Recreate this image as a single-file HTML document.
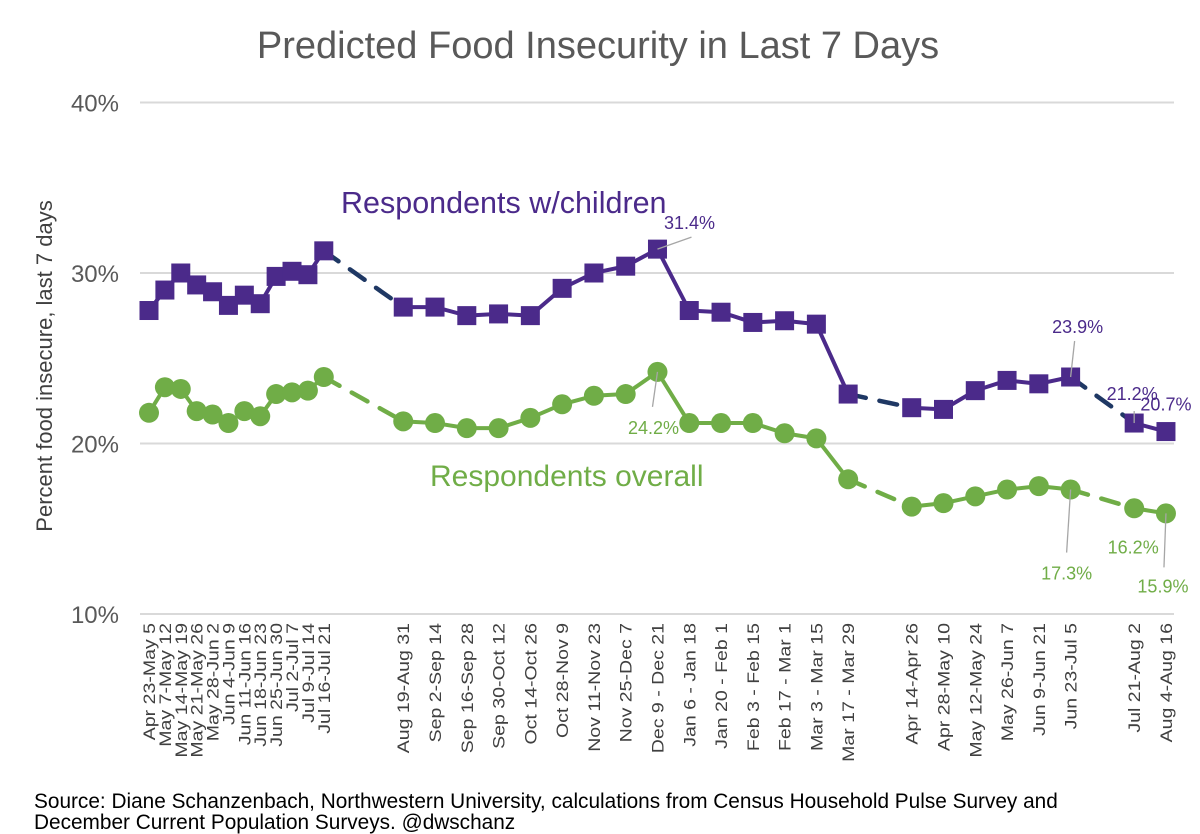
<!DOCTYPE html>
<html><head><meta charset="utf-8"><style>
body{margin:0;background:#fff;}
svg{display:block;font-family:"Liberation Sans",sans-serif;}
</style></head><body>
<svg id="chart" width="1200" height="834">
<text x="598" y="58" text-anchor="middle" font-size="38" fill="#595959">Predicted Food Insecurity in Last 7 Days</text>
<text transform="translate(52,366) rotate(-90)" text-anchor="middle" font-size="22" fill="#404040">Percent food insecure, last 7 days</text>
<g id="grid"></g><g id="xlabels"></g><g id="series"></g><g id="annot"></g>
<text x="341" y="213" font-size="30.5" fill="#4b2a8a">Respondents w/children</text>
<text x="430" y="486" font-size="30" fill="#70ad47">Respondents overall</text>
<text x="34" y="808" font-size="20.8" fill="#000">Source: Diane Schanzenbach, Northwestern University, calculations from Census Household Pulse Survey and</text>
<text x="34" y="829" font-size="20.8" fill="#000">December Current Population Surveys. @dwschanz</text>
</svg>
<script>
const categories=["Apr 23-May 5","May 7-May 12","May 14-May 19","May 21-May 26","May 28-Jun 2","Jun 4-Jun 9","Jun 11-Jun 16","Jun 18-Jun 23","Jun 25-Jun 30","Jul 2-Jul 7","Jul 9-Jul 14","Jul 16-Jul 21","Aug 19-Aug 31","Sep 2-Sep 14","Sep 16-Sep 28","Sep 30-Oct 12","Oct 14-Oct 26","Oct 28-Nov 9","Nov 11-Nov 23","Nov 25-Dec 7","Dec 9 - Dec 21","Jan 6 - Jan 18","Jan 20 - Feb 1","Feb 3 - Feb 15","Feb 17 - Mar 1","Mar 3 - Mar 15","Mar 17 - Mar 29","Apr 14-Apr 26","Apr 28-May 10","May 12-May 24","May 26-Jun 7","Jun 9-Jun 21","Jun 23-Jul 5","Jul 21-Aug 2","Aug 4-Aug 16"];
const slots=[0,1,2,3,4,5,6,7,8,9,10,11,16,18,20,22,24,26,28,30,32,34,36,38,40,42,44,48,50,52,54,56,58,62,64];
const children=[27.8,29.0,30.0,29.3,28.9,28.1,28.7,28.2,29.8,30.1,29.9,31.3,28.0,28.0,27.5,27.6,27.5,29.1,30.0,30.4,31.4,27.8,27.7,27.1,27.2,27.0,22.9,22.1,22.0,23.1,23.7,23.5,23.9,21.2,20.7];
const overall=[21.8,23.3,23.2,21.9,21.7,21.2,21.9,21.6,22.9,23.0,23.1,23.9,21.3,21.2,20.9,20.9,21.5,22.3,22.8,22.9,24.2,21.2,21.2,21.2,20.6,20.3,17.9,16.3,16.5,16.9,17.3,17.5,17.3,16.2,15.9];
const yTicks=[10,20,30,40];
const segments=[[0,11],[12,26],[27,32],[33,34]];
const annotatedChildren=[20,32,33,34];
const annotatedOverall=[20,32,33,34];
const NS="http://www.w3.org/2000/svg";
const X=s=>149+s*15.89;
const Y=v=>614-(v-10)*17.05;
function mk(tag,attrs,parent){const e=document.createElementNS(NS,tag);for(const k in attrs)e.setAttribute(k,attrs[k]);document.getElementById(parent).appendChild(e);return e;}
yTicks.forEach(t=>{
  const l=mk('line',{x1:140,x2:1174,y1:Y(t),y2:Y(t),stroke:'#d9d9d9','stroke-width':2},'grid');
  
  
  const tx=mk('text',{x:119,y:Y(t)+9,'text-anchor':'end','font-size':24,fill:'#595959'},'grid');
  tx.textContent=t+'%';
  
  
});
categories.forEach((c,i)=>{
  const x=X(slots[i])+6;
  const t=mk('text',{transform:`translate(${x},623) rotate(-90) scale(1.15,1)`,'text-anchor':'end','font-size':17,fill:'#404040'},'xlabels');
  t.textContent=c;
  
  
});
function drawSeries(vals,color,dashColor,marker,name){
  segments.forEach((sg,k)=>{
    const pts=[];for(let i=sg[0];i<=sg[1];i++)pts.push(X(slots[i])+','+Y(vals[i]));
    const p=mk('polyline',{points:pts.join(' '),fill:'none',stroke:color,'stroke-width':4,'stroke-linejoin':'round'},'series');
    
    
    if(k<segments.length-1){
      const a=sg[1],b=segments[k+1][0];
      const d=mk('line',{x1:X(slots[a]),y1:Y(vals[a]),x2:X(slots[b]),y2:Y(vals[b]),stroke:dashColor,'stroke-width':4.5,'stroke-dasharray':'18 14','stroke-linecap':'round'},'series');
      
      
    }
  });
  vals.forEach((v,i)=>{
    let m;
    if(marker==='sq') m=mk('rect',{x:X(slots[i])-9.5,y:Y(v)-9.5,width:19,height:19,fill:color},'series');
    else m=mk('circle',{cx:X(slots[i]),cy:Y(v),r:10,fill:color},'series');
    
    
  });
}
drawSeries(overall,'#70ad47','#70ad47','ci','overall');
drawSeries(children,'#4b2a8a','#1f3864','sq','children');
const childOffsets={20:[32,-20,34,-12],32:[7,-44,4,-36],33:[-2,-23,0,-12],34:[0,-21,null,null]};
const overallOffsets={20:[-4,62,-5,35],32:[-4,90,-4,63],33:[-1,45,null,null],34:[-3,79,-2,54]};
function annotate(vals,idx,offs,col,name){
  idx.forEach(i=>{
    const px=X(slots[i]),py=Y(vals[i]);const o=offs[i];
    if(o[2]!==null){
      const l=mk('line',{x1:px,y1:py,x2:px+o[2],y2:py+o[3],stroke:'#a6a6a6','stroke-width':1.3},'annot');
      
      
    }
    const t=mk('text',{x:px+o[0],y:py+o[1],'text-anchor':'middle','font-size':18,fill:col},'annot');
    t.textContent=vals[i].toFixed(1)+'%';
    
    
  });
}
annotate(children,annotatedChildren,childOffsets,'#4b2a8a','children');
annotate(overall,annotatedOverall,overallOffsets,'#70ad47','overall');
</script>
</body></html>
